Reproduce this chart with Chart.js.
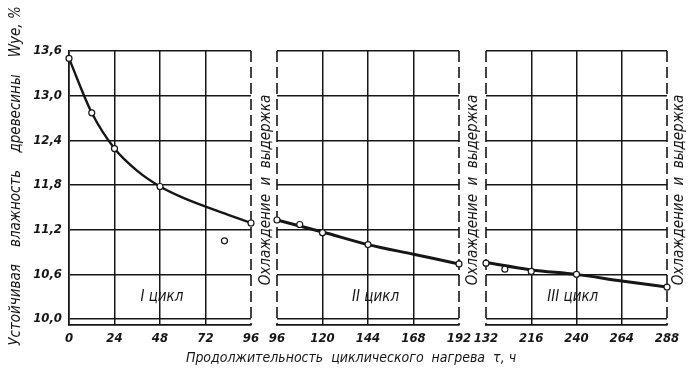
<!DOCTYPE html>
<html>
<head>
<meta charset="utf-8">
<script src="https://cdn.jsdelivr.net/npm/chart.js@4"></script>
<style>
  html, body { margin: 0; padding: 0; background: #fff; }
  #wrap { position: relative; width: 690px; height: 376px; overflow: hidden; }
  canvas { position: absolute; left: 0; top: 0; }
</style>
</head>
<body>
<div id="wrap">
  <canvas id="c1" width="690" height="376"></canvas>
  <canvas id="c2" width="690" height="376"></canvas>
  <canvas id="c3" width="690" height="376"></canvas>
</div>
<script>
// moisture axis (shared by all three cycles)
const yTicks = [10.0, 10.6, 11.2, 11.8, 12.4, 13.0, 13.6];
const yTickLabels = ["10,0", "10,6", "11,2", "11,8", "12,4", "13,0", "13,6"];
const yMin = 9.92;
const yMax = 13.6;

// cycle I
const c1Ticks = [0, 24, 48, 72, 96];
const c1TickLabels = ["0", "24", "48", "72", "96"];
const c1CurveX = [0, 12, 24, 36, 48, 60, 72, 84, 96];
const c1CurveY = [13.5, 12.77, 12.29, 11.99, 11.78, 11.63, 11.51, 11.4, 11.29];
const c1PointX = [0, 12, 24, 48, 82, 96];
const c1PointY = [13.5, 12.77, 12.29, 11.78, 11.05, 11.29];

// cycle II
const c2Ticks = [96, 120, 144, 168, 192];
const c2TickLabels = ["96", "120", "144", "168", "192"];
const c2CurveX = [96, 120, 144, 168, 192];
const c2CurveY = [11.33, 11.17, 11.0, 10.87, 10.74];
const c2PointX = [96, 108, 120, 144, 192];
const c2PointY = [11.33, 11.27, 11.16, 11.0, 10.74];

// cycle III (first label printed as "132" in the source)
const c3Ticks = [192, 216, 240, 264, 288];
const c3TickLabels = ["132", "216", "240", "264", "288"];
const c3CurveX = [192, 216, 240, 264, 288];
const c3CurveY = [10.76, 10.66, 10.6, 10.51, 10.43];
const c3PointX = [192, 202, 216, 240, 288];
const c3PointY = [10.75, 10.67, 10.64, 10.6, 10.43];

const INK = "#161616";
const FONT = '"Liberation Sans Narrow", "DejaVu Sans Condensed", "Liberation Sans", sans-serif';
const W = 690, H = 376;
const plotTop = 51, plotBottom = 325;

function pts(xs, ys) {
  return xs.map((x, i) => ({ x, y: ys[i] }));
}

const panelFrame = {
  id: "panelFrame",
  beforeDatasetsDraw(chart, args, opts) {
    const { ctx, chartArea: a, scales } = chart;
    ctx.save();
    ctx.strokeStyle = INK;
    ctx.lineWidth = 1.6;
    ctx.setLineDash([11, 5]);
    for (const side of opts.dashed) {
      const x = side === "left" ? a.left : a.right;
      ctx.beginPath();
      ctx.moveTo(x, a.top);
      ctx.lineTo(x, a.bottom);
      ctx.stroke();
    }
    ctx.setLineDash([]);
    ctx.fillStyle = INK;
    ctx.textAlign = "center";
    ctx.textBaseline = "middle";
    ctx.font = `italic 15px ${FONT}`;
    ctx.fillText(opts.label, scales.x.getPixelForValue(opts.labelAt[0]), scales.y.getPixelForValue(opts.labelAt[1]));
    ctx.restore();
  },
};

const pageText = {
  id: "pageText",
  afterDraw(chart, args, opts) {
    const ctx = chart.ctx;
    ctx.save();
    ctx.fillStyle = INK;
    ctx.textAlign = "center";
    ctx.textBaseline = "middle";
    for (const t of opts.items) {
      ctx.save();
      ctx.translate(t.x, t.y);
      if (t.rot) ctx.rotate(t.rot);
      ctx.font = `italic ${t.size}px ${FONT}`;
      ctx.fillText(t.text, 0, 0);
      ctx.restore();
    }
    ctx.restore();
  },
};

function makePanel(id, cfg) {
  const first = cfg.ticks[0];
  const last = cfg.ticks[cfg.ticks.length - 1];
  const edgeClear = (ctx) => {
    const v = ctx.tick && ctx.tick.value;
    return v === first || v === last ? "rgba(0,0,0,0)" : INK;
  };
  return new Chart(document.getElementById(id), {
    type: "line",
    data: {
      datasets: [
        {
          data: pts(cfg.pointX, cfg.pointY),
          showLine: false,
          pointRadius: 3,
          pointBorderWidth: 1.2,
          pointBackgroundColor: "#fff",
          pointBorderColor: INK,
          clip: false,
          order: 0,
        },
        {
          data: pts(cfg.curveX, cfg.curveY),
          borderColor: INK,
          borderWidth: cfg.lineWidth,
          pointRadius: 0,
          cubicInterpolationMode: "monotone",
          order: 1,
        },
      ],
    },
    options: {
      responsive: false,
      animation: false,
      events: [],
      layout: { padding: { left: 0, top: plotTop, right: W - cfg.right, bottom: 0 } },
      plugins: {
        legend: { display: false },
        tooltip: { enabled: false },
        panelFrame: { dashed: cfg.dashed, label: cfg.label, labelAt: cfg.labelAt },
        pageText: { items: cfg.texts || [] },
      },
      scales: {
        x: {
          type: "linear",
          min: first,
          max: last,
          afterBuildTicks: (s) => { s.ticks = cfg.ticks.map((v) => ({ value: v })); },
          afterFit: (s) => { s.height = H - plotBottom; },
          ticks: {
            autoSkip: false,
            maxRotation: 0,
            padding: 6,
            color: INK,
            font: { family: FONT, size: 13, style: "italic", weight: "bold" },
            callback: (v, i) => cfg.tickLabels[i],
          },
          grid: { color: edgeClear, lineWidth: 1.5, drawTicks: false },
          border: { display: true, color: INK, width: 1.8 },
        },
        y: {
          min: yMin,
          max: yMax,
          afterBuildTicks: (s) => { s.ticks = yTicks.map((v) => ({ value: v })); },
          afterFit: (s) => { s.width = cfg.left; },
          ticks: {
            display: cfg.showY,
            padding: 7,
            color: INK,
            font: { family: FONT, size: 13, style: "italic", weight: "bold" },
            callback: (v, i) => yTickLabels[i],
          },
          grid: { color: INK, lineWidth: 1.5, drawTicks: false },
          border: { display: cfg.showY, color: INK, width: 1.8 },
        },
      },
    },
    plugins: [panelFrame, pageText],
  });
}

const coolText = "Охлаждение  и  выдержка";
const up = -Math.PI / 2;

makePanel("c1", {
  left: 69, right: 251, showY: true, lineWidth: 2.4,
  ticks: c1Ticks, tickLabels: c1TickLabels,
  curveX: c1CurveX, curveY: c1CurveY, pointX: c1PointX, pointY: c1PointY,
  dashed: ["right"], label: "I цикл", labelAt: [49, 10.3],
  texts: [
    { text: "Устойчивая    влажность    древесины    Wуе, %", x: 16, y: 176, rot: up, size: 15 },
    { text: "Продолжительность  циклического  нагрева  τ, ч", x: 351, y: 358, size: 14 },
    { text: coolText, x: 266, y: 190, rot: up, size: 15 },
    { text: coolText, x: 473, y: 190, rot: up, size: 15 },
    { text: coolText, x: 679, y: 190, rot: up, size: 15 },
  ],
});

makePanel("c2", {
  left: 277, right: 459, showY: false, lineWidth: 3,
  ticks: c2Ticks, tickLabels: c2TickLabels,
  curveX: c2CurveX, curveY: c2CurveY, pointX: c2PointX, pointY: c2PointY,
  dashed: ["left", "right"], label: "II цикл", labelAt: [148, 10.3],
});

makePanel("c3", {
  left: 486, right: 667, showY: false, lineWidth: 3,
  ticks: c3Ticks, tickLabels: c3TickLabels,
  curveX: c3CurveX, curveY: c3CurveY, pointX: c3PointX, pointY: c3PointY,
  dashed: ["left", "right"], label: "III цикл", labelAt: [238, 10.3],
});
</script>
</body>
</html>
